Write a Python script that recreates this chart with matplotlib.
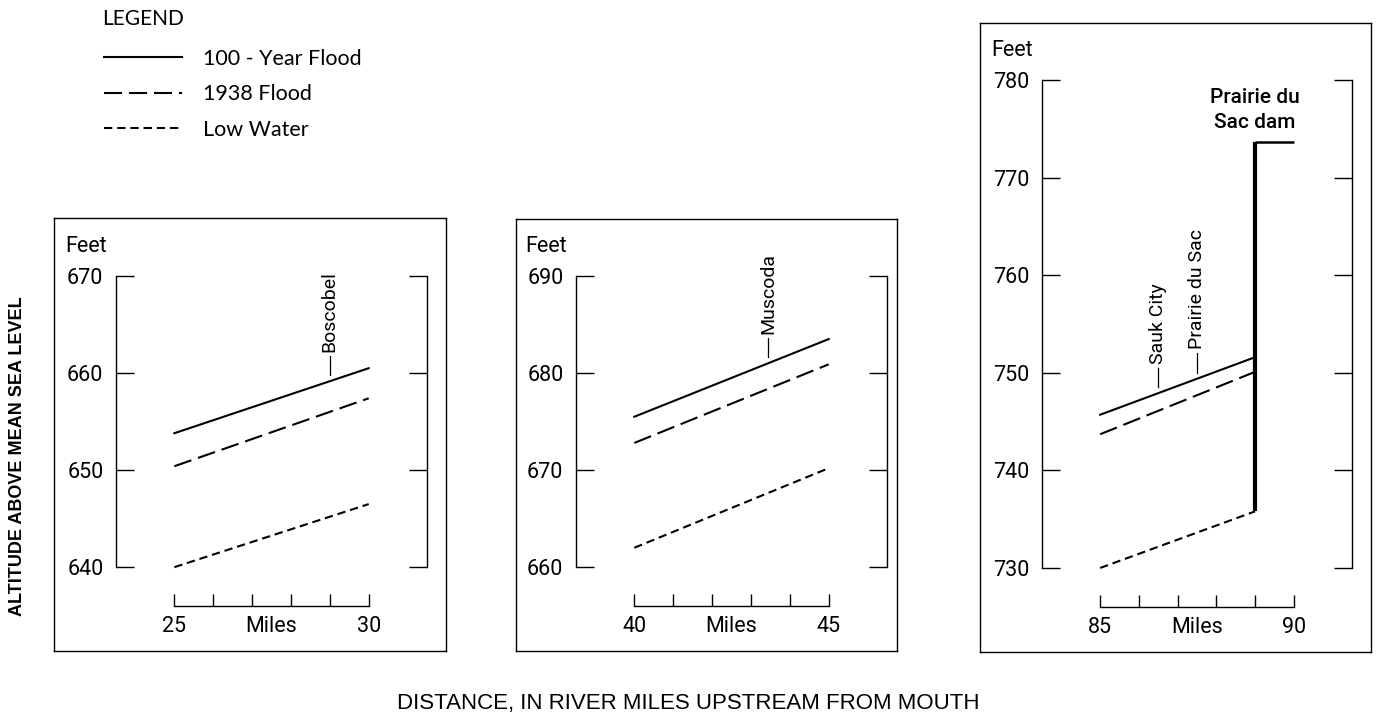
import numpy as np
import matplotlib
matplotlib.use("Agg")
import matplotlib.pyplot as plt

plt.rcParams["lines.scale_dashes"] = False
plt.rcParams["font.family"] = ["Roboto", "DejaVu Sans"]

W, H = 1376, 727

# values (river miles, feet above mean sea level)
axis_boscobel = [25, 30]
miles_boscobel = [25, 30]
flood100_boscobel = [653.8, 660.5]
flood1938_boscobel = [650.4, 657.4]
low_boscobel = [640.0, 646.5]
yticks_boscobel = [640, 650, 660, 670]

axis_muscoda = [40, 45]
miles_muscoda = [40, 45]
flood100_muscoda = [675.5, 683.5]
flood1938_muscoda = [672.8, 680.9]
low_muscoda = [662.0, 670.2]
yticks_muscoda = [660, 670, 680, 690]

axis_sauk = [85, 90]
miles_sauk = [85, 89]
flood100_sauk = [745.7, 751.6]
flood1938_sauk = [743.7, 750.1]
low_sauk = [730.0, 735.8]
yticks_sauk = [730, 740, 750, 760, 770, 780]
dam_miles = [89, 90]
dam_top = 773.6

places_boscobel = [("Boscobel", 29.0)]
places_muscoda = [("Muscoda", 43.45)]
places_sauk = [("Sauk City", 86.5), ("Prairie du Sac", 87.5)]

DASH_1938 = (0, (13, 5))
DASH_LOW = (0, (6, 3.5))


def px_rect(x0, y0, x1, y1):
    return [x0 / W, 1 - y1 / H, (x1 - x0) / W, (y1 - y0) / H]


def panel(frame_px, axes_px, axis, miles, f100, f1938, low, yticks, places):
    frame = fig.add_axes(px_rect(*frame_px))
    frame.set_xticks([])
    frame.set_yticks([])
    for s in frame.spines.values():
        s.set_linewidth(1.0)

    ax = fig.add_axes(px_rect(*axes_px))
    ax.patch.set_visible(False)
    xa, xb = axis
    ax.set_xlim(xa - 1.5, xb + 1.5)
    ax.set_ylim(yticks[0] - 4, yticks[-1])

    ax.spines["top"].set_visible(False)
    ax.spines["left"].set_bounds(yticks[0], yticks[-1])
    ax.spines["right"].set_bounds(yticks[0], yticks[-1])
    ax.spines["bottom"].set_bounds(xa, xb)
    for s in ax.spines.values():
        s.set_linewidth(1.0)

    ax.set_yticks(yticks)
    ax.tick_params(axis="y", direction="in", length=13, width=1.0,
                   left=True, right=True, labelright=False, pad=9, labelsize=15.5)
    ax.set_xticks([xa, (xa + xb) / 2, xb], [str(xa), "Miles", str(xb)])
    ax.set_xticks(np.arange(xa + 1, xb), minor=True)
    ax.tick_params(axis="x", which="both", direction="in", length=9,
                   width=1.0, pad=7, labelsize=15.5)
    ax.xaxis.get_major_ticks()[1].tick1line.set_visible(False)

    ax.annotate("Feet", xy=(0, 1), xycoords="axes fraction", xytext=(-9, 30),
                textcoords="offset pixels", ha="right", va="center", fontsize=15.5)

    lines = [
        ax.plot(miles, f100, color="black", lw=1.5, label="100 - Year Flood")[0],
        ax.plot(miles, f1938, color="black", lw=1.5, ls=DASH_1938, label="1938 Flood")[0],
        ax.plot(miles, low, color="black", lw=1.5, ls=DASH_LOW, label="Low Water")[0],
    ]

    for name, m in places:
        level = np.interp(m, miles, f100)
        ax.plot([m, m], [level + 0.6, level + 2.6], color="black", lw=0.9)
        ax.text(m, level + 3.0, name, rotation=90, ha="center", va="bottom", fontsize=14)
    return ax, lines


fig = plt.figure(figsize=(W / 100, H / 100), dpi=100)

ax1, handles = panel((54, 218, 446, 651), (116, 276, 427, 606), axis_boscobel,
                     miles_boscobel, flood100_boscobel, flood1938_boscobel,
                     low_boscobel, yticks_boscobel, places_boscobel)
panel((516, 219, 897, 651), (576, 276, 887, 606), axis_muscoda,
      miles_muscoda, flood100_muscoda, flood1938_muscoda,
      low_muscoda, yticks_muscoda, places_muscoda)
ax3, _ = panel((980, 23, 1371, 652), (1042, 80, 1352, 607), axis_sauk,
               miles_sauk, flood100_sauk, flood1938_sauk,
               low_sauk, yticks_sauk, places_sauk)

# Prairie du Sac dam
ax3.plot([dam_miles[0], dam_miles[0]], [low_sauk[-1], dam_top], color="black",
         lw=3, solid_capstyle="butt")
ax3.plot(dam_miles, [dam_top, dam_top], color="black", lw=1.8, solid_capstyle="butt")
ax3.text(dam_miles[0], dam_top + 3.3, "Prairie du\nSac dam", ha="center", va="center",
         fontsize=15, fontweight=500, linespacing=1.4)

fig.text(102 / W, 1 - 19 / H, "LEGEND", ha="left", va="center",
         family="Lato", fontsize=15)
fig.legend(handles=handles, loc="upper left", bbox_to_anchor=(104 / W, 1 - 49 / H),
           frameon=False, prop={"family": "Lato", "size": 15.5},
           handlelength=3.6, handletextpad=0.98, labelspacing=0.72,
           borderaxespad=0, borderpad=0)

fig.text(18 / W, 1 - 456 / H, "ALTITUDE ABOVE MEAN SEA LEVEL", rotation=90,
         ha="center", va="center", family="Liberation Sans", fontweight="bold",
         fontsize=13)
fig.text(0.5, 1 - 704 / H, "DISTANCE, IN RIVER MILES UPSTREAM FROM MOUTH",
         ha="center", va="center", family="Liberation Sans", fontsize=16)

fig.savefig("out.png", dpi=100)
